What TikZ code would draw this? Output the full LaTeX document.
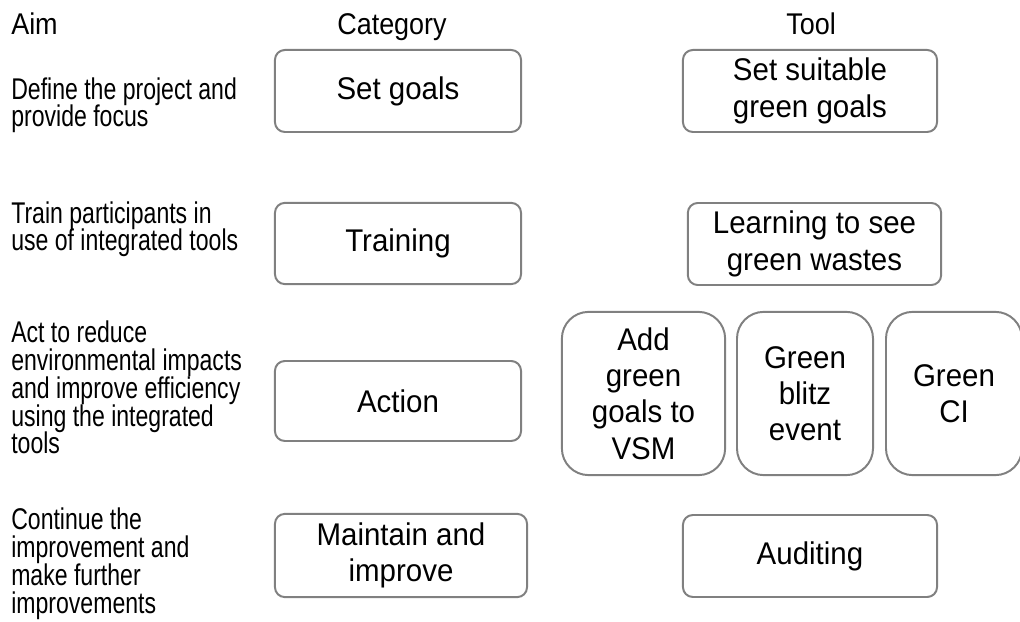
\documentclass[tikz,border=0pt]{standalone}
\usepackage{fontspec}
\setmainfont{Liberation Sans}
\newfontfamily\aimfont[FakeStretch=0.77]{Liberation Sans}
\newfontfamily\boxfont[FakeStretch=0.94]{Liberation Sans}
\newfontfamily\headfont[FakeStretch=0.9]{Liberation Sans}
\lineskiplimit=-10pt

\begin{document}
\begin{tikzpicture}[x=0.025cm,y=-0.025cm]

\tikzset{box/.style = {draw=gray,line width=1.4pt,rounded corners=7pt,inner sep=0pt,align=center,font=\boxfont\fontsize{22.3}{25.8}\selectfont}}
\tikzset{tallbox/.style = {box,rounded corners=19pt}}
\tikzset{aimtext/.style = {anchor=base west,align=left,inner sep=0pt,font=\aimfont\fontsize{21.3}{19.9}\selectfont}}
\tikzset{head/.style = {anchor=base,inner sep=0pt,font=\headfont\fontsize{21.3}{24}\selectfont}}
\useasboundingbox (0,0) rectangle (1020,622);
%headers
\node[head, anchor=base west] (aim) at (11,35) {Aim};
\node[head] (cat) at (392,35) {Category};
\node[head] (tool) at (811,35) {Tool};
%aims (placed at the baseline of their last line)
\node[aimtext] (aim1) at (11,127) {Define the project and\\provide focus};
\node[aimtext] (aim2) at (11,251) {Train participants in\\use of integrated tools};
\node[aimtext] (aim3) at (11,454) {Act to reduce\\environmental impacts\\and improve efficiency\\using the integrated\\tools};
\node[aimtext] (aim4) at (11,613) {Continue the\\improvement and\\make further\\improvements};
%categories
\node[box, minimum width=6.15cm, minimum height=2.05cm] (goals) at (398,91) {Set goals};
\node[box, minimum width=6.15cm, minimum height=2.03cm] (training) at (398,243.5) {Training};
\node[box, minimum width=6.15cm, minimum height=2.0cm] (action) at (398,401) {Action};
\node[box, minimum width=6.3cm, minimum height=2.08cm] (maintain) at (401,555.5) {Maintain and\\improve};
%tools
\node[box, minimum width=6.35cm, minimum height=2.05cm] (suitable) at (810,91) {Set suitable\\green goals};
\node[box, minimum width=6.33cm, minimum height=2.05cm] (learning) at (814.5,244) {Learning to see\\green wastes};
\node[tallbox, minimum width=4.08cm, minimum height=4.08cm] (vsm) at (643.5,393.5) {Add\\green\\goals to\\VSM};
\node[tallbox, minimum width=3.4cm, minimum height=4.08cm] (blitz) at (805,393.5) {Green\\blitz\\event};
\node[tallbox, minimum width=3.4cm, minimum height=4.08cm] (ci) at (954,393.5) {Green\\CI};
\node[box, minimum width=6.35cm, minimum height=2.05cm] (auditing) at (810,556) {Auditing};

\end{tikzpicture}
\end{document}
